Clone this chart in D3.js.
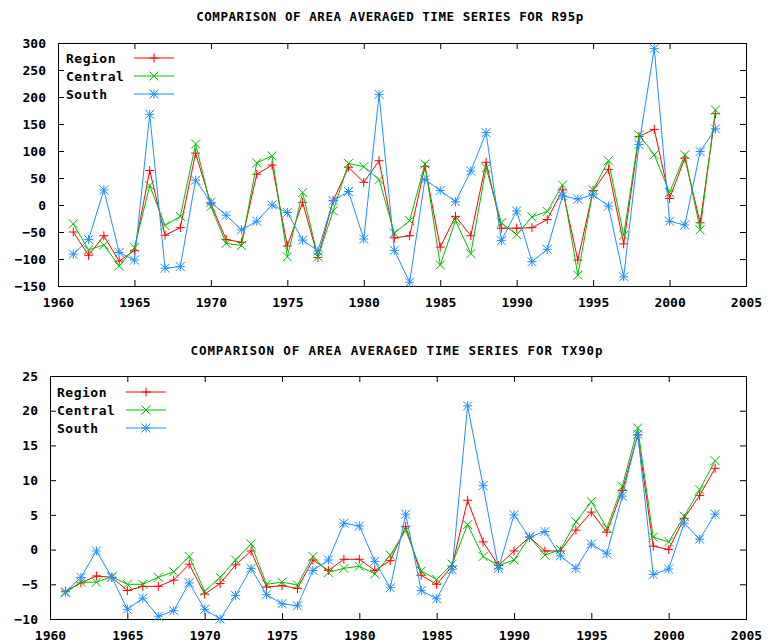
<!DOCTYPE html>
<html>
<head>
<meta charset="utf-8">
<script src="https://cdn.jsdelivr.net/npm/d3@7"></script>
<style>
    body { margin: 0; background: #fff; }
    text { font-family: "DejaVu Sans Mono", "Liberation Mono", monospace; font-weight: bold; }
</style>
</head>
<body>
<svg class="chart" width="769" height="644"></svg>
<script>
const years = [1961, 1962, 1963, 1964, 1965, 1966, 1967, 1968, 1969, 1970,
    1971, 1972, 1973, 1974, 1975, 1976, 1977, 1978, 1979, 1980,
    1981, 1982, 1983, 1984, 1985, 1986, 1987, 1988, 1989, 1990,
    1991, 1992, 1993, 1994, 1995, 1996, 1997, 1998, 1999, 2000,
    2001, 2002, 2003];

const seriesNames = ['Region', 'Central', 'South'];

// R95p
const r95Region = [-50, -93, -57, -104, -84, 64, -56, -42, 96, 2,
    -64, -69, 57, 74, -76, 5, -97, 8, 70, 42,
    82, -61, -57, 71, -78, -21, -57, 79, -43, -43,
    -42, -27, 28, -102, 27, 66, -72, 127, 140, 12,
    87, -33, 169];
const r95Central = [-35, -83, -74, -113, -79, 36, -38, -21, 113, -3,
    -71, -75, 78, 91, -96, 23, -96, -11, 77, 71,
    47, -52, -29, 76, -111, -29, -90, 69, -33, -55,
    -22, -12, 37, -130, 28, 82, -56, 130, 93, 23,
    93, -46, 176];
const r95South = [-91, -64, 28, -88, -102, 168, -117, -114, 46, 5,
    -19, -46, -30, 0, -14, -65, -85, 8, 25, -63,
    205, -84, -143, 47, 27, 6, 63, 134, -66, -11,
    -105, -82, 17, 11, 19, -2, -133, 112, 290, -30,
    -37, 99, 141];
const r95Ticks = [-150, -100, -50, 0, 50, 100, 150, 200, 250, 300];

// TX90p
const txRegion = [-6.0, -4.8, -3.8, -4.0, -5.9, -5.3, -5.3, -4.4, -2.1, -6.4,
    -4.9, -2.2, -0.2, -5.4, -5.2, -5.6, -1.5, -3.0, -1.4, -1.4,
    -3.0, -1.6, 3.3, -3.7, -5.0, -2.4, 7.1, 1.1, -2.3, -0.2,
    1.8, -0.2, -0.2, 2.8, 5.4, 2.5, 8.5, 16.5, 0.5, 0.0,
    4.5, 7.8, 11.7];
const txCentral = [-6.2, -4.7, -4.7, -3.9, -5.0, -5.0, -4.0, -3.2, -1.0, -6.0,
    -4.0, -1.5, 0.8, -5.0, -4.7, -5.1, -1.0, -3.3, -2.7, -2.4,
    -3.5, -0.8, 2.8, -3.1, -4.3, -2.1, 3.6, -1.0, -2.3, -1.5,
    1.8, -0.8, 0.0, 4.0, 6.9, 3.1, 9.1, 17.5, 1.8, 1.1,
    4.8, 8.6, 12.8];
const txSouth = [-6.1, -4.0, -0.2, -4.0, -8.6, -7.0, -9.6, -8.8, -4.8, -8.6,
    -10.0, -6.6, -2.7, -6.5, -7.8, -8.1, -3.0, -1.5, 3.8, 3.4,
    -1.7, -5.5, 5.1, -5.9, -7.1, -2.9, 20.7, 9.2, -2.7, 5.0,
    1.8, 2.6, -0.9, -2.7, 0.8, -0.6, 7.7, 16.6, -3.6, -2.8,
    3.8, 1.5, 5.1];
const txTicks = [-10, -5, 0, 5, 10, 15, 20, 25];

const xTicks = [1960, 1965, 1970, 1975, 1980, 1985, 1990, 1995, 2000, 2005];

const colors = ['#ff0000', '#00c000', '#1e8fff'];

var svg = d3.select('.chart');

makeChart({
    title: 'COMPARISON OF AREA AVERAGED TIME SERIES FOR R95p',
    titleX: 390, titleY: 21, titleSpacing: 0.55,
    box: { left: 58, right: 746, top: 43, bottom: 286 },
    yDomain: [-150, 300],
    yTicks: r95Ticks,
    series: [r95Region, r95Central, r95South],
    legend: { x: 66, lineX: 134, y: 58 }
});

makeChart({
    title: 'COMPARISON OF AREA AVERAGED TIME SERIES FOR TX90p',
    titleX: 397, titleY: 355, titleSpacing: 0.9,
    box: { left: 50, right: 746, top: 376, bottom: 619 },
    yDomain: [-10, 25],
    yTicks: txTicks,
    series: [txRegion, txCentral, txSouth],
    legend: { x: 57, lineX: 126, y: 392 }
});

// gnuplot point types: 1 = plus, 2 = cross, 3 = star
function markerPath(type, s) {
    var plus = 'M' + (-s) + ',0H' + s + 'M0,' + (-s) + 'V' + s;
    var cross = 'M' + (-s) + ',' + (-s) + 'L' + s + ',' + s + 'M' + (-s) + ',' + s + 'L' + s + ',' + (-s);
    if (type == 0) return plus;
    if (type == 1) return cross;
    return plus + cross;
}

function makeChart(cfg) {
    var b = cfg.box;

    var x = d3.scaleLinear()
        .domain([1960, 2005])
        .range([b.left, b.right]);

    var y = d3.scaleLinear()
        .domain(cfg.yDomain)
        .range([b.bottom, b.top]);

    var g = svg.append('g');

    g.append('text')
        .attr('x', cfg.titleX)
        .attr('y', cfg.titleY)
        .attr('text-anchor', 'middle')
        .style('font-size', '12.5px')
        .style('letter-spacing', cfg.titleSpacing + 'px')
        .text(cfg.title);

    //Axes - ticks point inward and are mirrored on the opposite side.
    g.append('g')
        .attr('transform', 'translate(0,' + b.bottom + ')')
        .call(d3.axisBottom(x).tickValues(xTicks).tickFormat(d3.format('d'))
            .tickSizeInner(-6).tickSizeOuter(0).tickPadding(12));
    g.append('g')
        .attr('transform', 'translate(0,' + b.top + ')')
        .call(d3.axisTop(x).tickValues(xTicks).tickFormat('')
            .tickSizeInner(-6).tickSizeOuter(0));
    g.append('g')
        .attr('transform', 'translate(' + b.left + ',0)')
        .call(d3.axisLeft(y).tickValues(cfg.yTicks)
            .tickSizeInner(-6).tickSizeOuter(0).tickPadding(12));
    g.append('g')
        .attr('transform', 'translate(' + b.right + ',0)')
        .call(d3.axisRight(y).tickValues(cfg.yTicks).tickFormat('')
            .tickSizeInner(-6).tickSizeOuter(0));

    g.selectAll('.domain').remove();
    g.selectAll('.tick line').attr('stroke', '#000');
    g.selectAll('.tick text')
        .style('font-size', '13px')
        .style('font-family', '"DejaVu Sans Mono", monospace')
        .style('font-weight', 'bold')
        .attr('fill', '#000');

    g.append('rect')
        .attr('x', b.left + 0.5)
        .attr('y', b.top + 0.5)
        .attr('width', b.right - b.left)
        .attr('height', b.bottom - b.top)
        .attr('fill', 'none')
        .attr('stroke', '#000');

    var line = d3.line()
        .x((d, i) => x(years[i]))
        .y(d => y(d));

    cfg.series.forEach(function(vals, k) {
        g.append('path')
            .datum(vals)
            .attr('fill', 'none')
            .attr('stroke', colors[k])
            .attr('stroke-width', 1)
            .attr('d', line);

        g.selectAll('.pt' + k)
            .data(vals)
            .enter().append('path')
            .attr('class', 'pt' + k)
            .attr('transform', (d, i) => 'translate(' + x(years[i]) + ',' + y(d) + ')')
            .attr('d', markerPath(k, 4.5))
            .attr('fill', 'none')
            .attr('stroke', colors[k]);
    });

    //Legend
    var lg = cfg.legend;
    seriesNames.forEach(function(name, k) {
        var ly = lg.y + k * 18;
        g.append('text')
            .attr('x', lg.x)
            .attr('y', ly)
            .attr('dy', '0.35em')
            .style('font-size', '13px')
            .style('letter-spacing', '0.5px')
            .text(name);
        g.append('line')
            .attr('x1', lg.lineX).attr('x2', lg.lineX + 40)
            .attr('y1', ly).attr('y2', ly)
            .attr('stroke', colors[k]);
        g.append('path')
            .attr('transform', 'translate(' + (lg.lineX + 20) + ',' + ly + ')')
            .attr('d', markerPath(k, 4.5))
            .attr('fill', 'none')
            .attr('stroke', colors[k]);
    });
}
</script>
</body>
</html>
